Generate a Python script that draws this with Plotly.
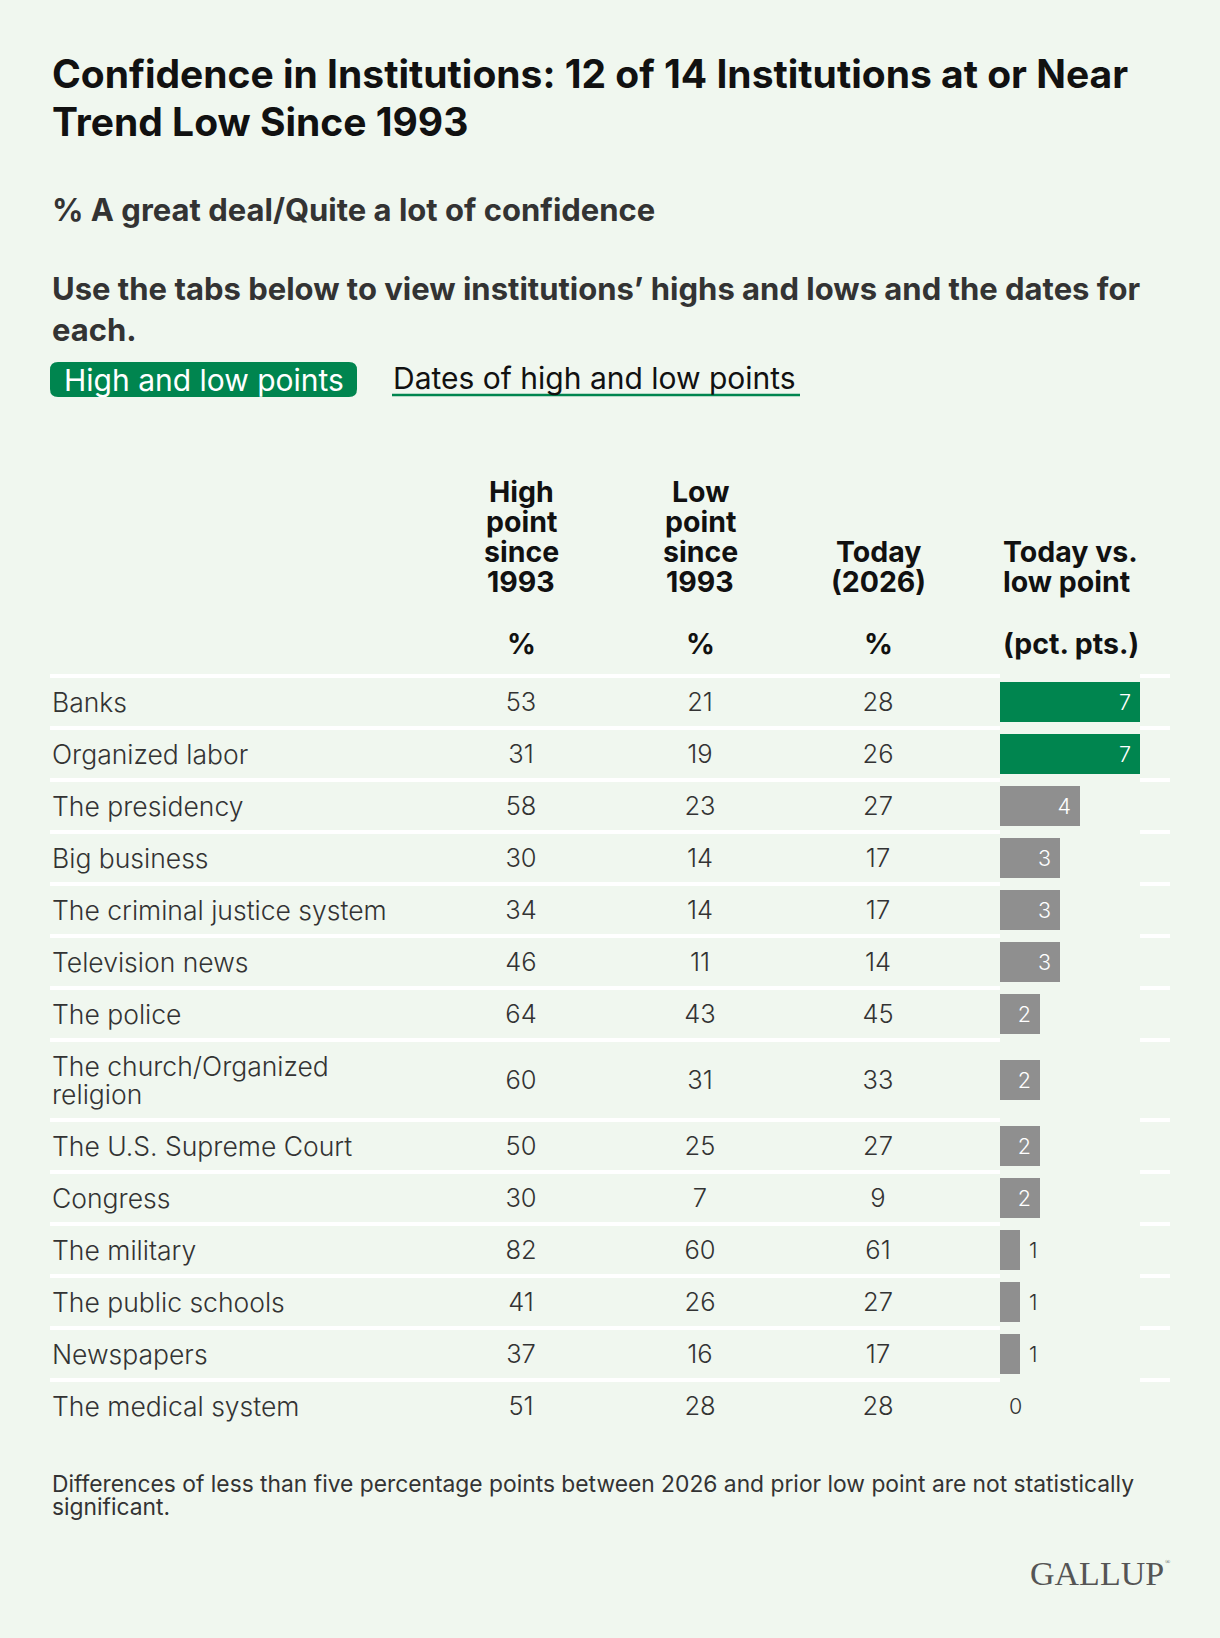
import plotly.graph_objects as go

# --- data ---
institutions = [
    "Banks", "Organized labor", "The presidency", "Big business",
    "The criminal justice system", "Television news", "The police",
    "The church/Organized<br>religion", "The U.S. Supreme Court", "Congress",
    "The military", "The public schools", "Newspapers", "The medical system",
]
high_point = [53, 31, 58, 30, 34, 46, 64, 60, 50, 30, 82, 41, 37, 51]
low_point = [21, 19, 23, 14, 14, 11, 43, 31, 25, 7, 60, 26, 16, 28]
today = [28, 26, 27, 17, 17, 14, 45, 33, 27, 9, 61, 27, 17, 28]
vs_low = [7, 7, 4, 3, 3, 3, 2, 2, 2, 2, 1, 1, 1, 0]

header_lines = [
    ["High", "point", "since", "1993"],
    ["Low", "point", "since", "1993"],
    ["Today", "(2026)"],
    ["Today vs.", "low point"],
]
header_units = ["%", "%", "%", "(pct. pts.)"]

title_lines = ["Confidence in Institutions: 12 of 14 Institutions at or Near",
               "Trend Low Since 1993"]
subtitle = "% A great deal/Quite a lot of confidence"
intro_lines = ["Use the tabs below to view institutions\u2019 highs and lows and the dates for",
               "each."]
tabs = ["High and low points", "Dates of high and low points"]
note_lines = ["Differences of less than five percentage points between 2026 and prior low point are not statistically",
              "significant."]

# --- look ---
W, H = 1220, 1638
BG = "#f0f7ef"
GREEN = "#00854f"
GRAY = "#8f8f8f"
DARK = "#333333"
FONT = "Inter"
SIG = 5  # diffs of 5+ points are significant

ROW_TOP = 676
ROW_H = 52
ROW_H2 = 80
COL_X = [521, 700, 878, 1001]
BAR_X0 = 1000
PX_PER_PT = 20
NBSP = "\u00a0"

# row positions follow from how many lines each label needs
centers, seps = [], []
y = ROW_TOP
for lab in institutions:
    h = ROW_H2 if "<br>" in lab else ROW_H
    seps.append(y)
    centers.append(y + h / 2)
    y += h

fig = go.Figure()

# number columns
for vals, cx in zip([high_point, low_point, today], COL_X[:3]):
    fig.add_trace(go.Scatter(
        x=[cx] * len(vals), y=[c + 3 for c in centers], mode="text",
        text=[str(v) for v in vals], textposition="middle center",
        textfont=dict(family=FONT, size=25.5, color=DARK, weight=300),
        hoverinfo="skip", showlegend=False,
    ))

# bars
inside = [v >= 2 for v in vs_low]
fig.add_trace(go.Bar(
    x=vs_low, y=centers, orientation="h", width=40,
    xaxis="x2", yaxis="y",
    marker=dict(color=[GREEN if v >= SIG else GRAY for v in vs_low], line_width=0),
    text=[f"{v}{NBSP}" if ins else f"{NBSP}{v}" for v, ins in zip(vs_low, inside)],
    textposition=["inside" if ins else "outside" for ins in inside],
    insidetextanchor="end",
    insidetextfont=dict(family=FONT, size=21.5, color="white", weight=300),
    outsidetextfont=dict(family=FONT, size=21.5, color=DARK, weight=300),
    constraintext="none", cliponaxis=False,
    hoverinfo="skip", showlegend=False,
))

ann = []


def txt(x, y, s, size, color=DARK, weight=400, anchor="left", family=FONT):
    ann.append(dict(x=x, y=y, xref="x", yref="y", text=s, showarrow=False,
                    xanchor=anchor, yanchor="middle", align=anchor,
                    font=dict(family=family, size=size, color=color, weight=weight)))


# header texts
for i, line in enumerate(title_lines):
    txt(50, 73 + i * 48, line, 39, "#111111", 700)
txt(50, 209, subtitle, 31, DARK, 700)
for i, line in enumerate(intro_lines):
    txt(50, 288 + i * 41, line, 31, DARK, 700)

txt(62, 380, tabs[0], 30, "white", 400)
txt(391, 378, tabs[1], 30, "#111111", 400)

# column headers
for lines, unit, cx in zip(header_lines, header_units, COL_X):
    anchor = "left" if cx == COL_X[-1] else "center"
    n = len(lines)
    for i, line in enumerate(lines):
        txt(cx, 581 - (n - 1 - i) * 30, line, 28.5, "#111111", 700, anchor)
    txt(cx, 643, unit, 28.5, "#111111", 700, anchor)

# row labels (wrapped labels drawn line by line for tighter leading)
for lab, cy in zip(institutions, centers):
    parts = lab.split("<br>")
    for i, part in enumerate(parts):
        txt(50, cy + (i - (len(parts) - 1) / 2) * 28, part, 26.5, DARK, 300)

# footnote and logo
for i, line in enumerate(note_lines):
    txt(50, 1483 + i * 23, line, 22.8, DARK, 400)
txt(1166, 1573, "GALLUP", 34, "#555555", 400, "right", "Liberation Serif")
txt(1163, 1562, "\u00ae", 7, "#555555", 400, "left", "Liberation Serif")

# shapes: tab button, underline, row separators
r = 8
x0, x1, y0, y1 = 50, 357, 362, 397
button = (f"M {x0 + r},{y0} L {x1 - r},{y0} Q {x1},{y0} {x1},{y0 + r} "
          f"L {x1},{y1 - r} Q {x1},{y1} {x1 - r},{y1} L {x0 + r},{y1} "
          f"Q {x0},{y1} {x0},{y1 - r} L {x0},{y0 + r} Q {x0},{y0} {x0 + r},{y0} Z")
shapes = [
    dict(type="path", path=button, xref="x", yref="y",
         fillcolor=GREEN, line_width=0, layer="below"),
    dict(type="line", x0=392, x1=800, y0=395, y1=395, xref="x", yref="y",
         line=dict(color=GREEN, width=2.5)),
]
for sy in seps:
    shapes.append(dict(type="line", x0=50, x1=1170, y0=sy, y1=sy, xref="x", yref="y",
                       line=dict(color="white", width=4), layer="below"))

fig.update_layout(
    width=W, height=H,
    margin=dict(l=0, r=0, t=0, b=0),
    paper_bgcolor=BG, plot_bgcolor=BG,
    xaxis=dict(range=[0, W], visible=False, fixedrange=True),
    xaxis2=dict(range=[0, max(vs_low)],
                domain=[BAR_X0 / W, (BAR_X0 + PX_PER_PT * max(vs_low)) / W],
                anchor="y", visible=False, fixedrange=True),
    yaxis=dict(range=[H, 0], visible=False, fixedrange=True),
    annotations=ann, shapes=shapes,
    showlegend=False,
)

fig.write_html(
    "out.html",
    config={"displayModeBar": False},
    post_script=f"document.body.style.margin='0';document.body.style.background='{BG}';",
)
